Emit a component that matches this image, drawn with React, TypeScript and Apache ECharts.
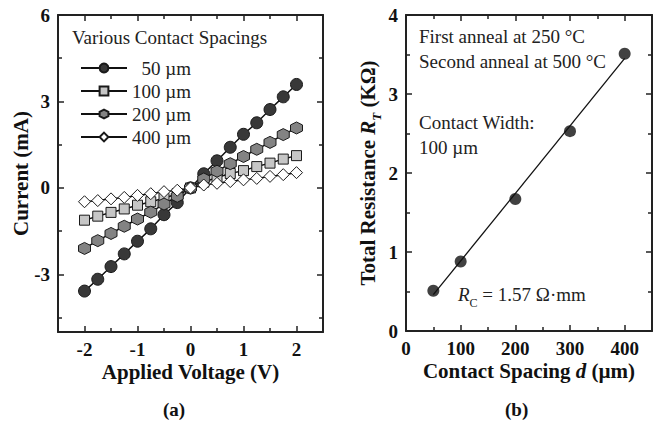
import React, { useEffect, useRef } from "react";
import * as echarts from "echarts";

// ---- Data (a) ----
const voltage = [-2, -1.75, -1.5, -1.25, -1, -0.75, -0.5, -0.25, 0, 0.25, 0.5, 0.75, 1, 1.25, 1.5, 1.75, 2];
const i50 = [-3.58, -3.17, -2.73, -2.29, -1.85, -1.42, -0.93, -0.51, 0, 0.49, 0.94, 1.41, 1.86, 2.26, 2.72, 3.16, 3.59];
const i100 = [-1.12, -0.98, -0.85, -0.73, -0.6, -0.48, -0.36, -0.2, 0, 0.2, 0.36, 0.5, 0.6, 0.74, 0.86, 1.0, 1.12];
const i200 = [-2.1, -1.83, -1.58, -1.33, -1.08, -0.84, -0.56, -0.29, 0, 0.31, 0.58, 0.84, 1.09, 1.34, 1.58, 1.85, 2.08];
const i400 = [-0.48, -0.44, -0.38, -0.33, -0.26, -0.2, -0.13, -0.08, 0, 0.1, 0.16, 0.22, 0.28, 0.33, 0.4, 0.46, 0.53];
const seriesNames = ["\u200250 \u00b5m", "100 \u00b5m", "200 \u00b5m", "400 \u00b5m"];

const aXMajor = [-2, -1, 0, 1, 2];
const aXMinor = [-1.5, -0.5, 0.5, 1.5];
const aYMajor = [-3, 0, 3, 6];
const aYMinor = [-4.5, -1.5, 1.5, 4.5];

// ---- Data (b) ----
const spacing = [50, 100, 200, 300, 400];
const totalR = [0.51, 0.88, 1.67, 2.53, 3.51];
const fitSpacing = [50, 400];
const fitR = [0.46, 3.45];

const bXMajor = [0, 100, 200, 300, 400];
const bXMinor = [50, 150, 250, 350];
const bYMajor = [0, 1, 2, 3, 4];
const bYMinor = [0.5, 1.5, 2.5, 3.5];

const FONT = '"Liberation Serif", "Times New Roman", serif';
const FRAME = "#222";
const HEX = "path://M0,-1 L0.866,-0.5 L0.866,0.5 L0,1 L-0.866,0.5 L-0.866,-0.5 Z";

function axisSet(
  dim: "x" | "y",
  gridIndex: number,
  min: number,
  max: number,
  majors: number[],
  minors: number[],
  labels: number[],
  name: string,
  nameGap: number,
  rich?: any
) {
  const mainPos = dim === "x" ? "bottom" : "left";
  const mirrorPos = dim === "x" ? "top" : "right";
  const line = { show: true, onZero: false, lineStyle: { color: FRAME, width: 2 } };
  const noLine = { show: false, onZero: false };
  const tickStyle = { color: FRAME, width: 1.5 };
  const base = { type: "value", gridIndex, min, max, splitLine: { show: false } };
  return [
    {
      ...base,
      position: mainPos,
      axisLine: line,
      axisTick: { show: true, inside: true, length: 6, customValues: majors, lineStyle: tickStyle },
      axisLabel: {
        show: true,
        customValues: labels,
        margin: 8,
        fontFamily: FONT,
        fontWeight: "bold",
        fontSize: 19,
        lineHeight: 19,
        color: "#111",
      },
      name,
      nameLocation: "middle",
      nameGap,
      nameMoveOverlap: false,
      nameRotate: dim === "y" ? 90 : 0,
      nameTextStyle: {
        fontFamily: FONT,
        fontWeight: "bold",
        fontSize: 21,
        lineHeight: 21,
        color: "#111",
        rich,
      },
    },
    {
      ...base,
      position: mainPos,
      axisLine: noLine,
      axisTick: { show: true, inside: true, length: 4, customValues: minors, lineStyle: tickStyle },
      axisLabel: { show: false },
    },
    {
      ...base,
      position: mirrorPos,
      axisLine: line,
      axisTick: { show: true, inside: true, length: 6, customValues: majors, lineStyle: tickStyle },
      axisLabel: { show: false },
    },
    {
      ...base,
      position: mirrorPos,
      axisLine: noLine,
      axisTick: { show: true, inside: true, length: 4, customValues: minors, lineStyle: tickStyle },
      axisLabel: { show: false },
    },
  ];
}

function pairs(xs: number[], ys: number[]) {
  return xs.map((x, i) => [x, ys[i]]);
}

export default function App() {
  const ref = useRef<HTMLDivElement>(null);
  useEffect(() => {
    if (!ref.current) return;
    const chart = echarts.init(ref.current, undefined, { renderer: "svg" });
    const lineStyle = { color: "#111", width: 1.5 };
    const ivSeries = [
      { name: seriesNames[0], data: i50, symbol: "circle", symbolSize: 12, color: "#383838" },
      { name: seriesNames[1], data: i100, symbol: "rect", symbolSize: 10, color: "#c6c6c6" },
      { name: seriesNames[2], data: i200, symbol: HEX, symbolSize: 12, color: "#838383" },
      { name: seriesNames[3], data: i400, symbol: "diamond", symbolSize: 12, color: "#ffffff" },
    ].map((s) => ({
      type: "line",
      name: s.name,
      xAxisIndex: 0,
      yAxisIndex: 0,
      data: pairs(voltage, s.data),
      symbol: s.symbol,
      symbolSize: s.symbolSize,
      showSymbol: true,
      lineStyle,
      itemStyle: { color: s.color, borderColor: "#1a1a1a", borderWidth: 1 },
      emphasis: { disabled: true },
    }));

    const option: any = {
      animation: false,
      backgroundColor: "#ffffff",
      grid: [
        { left: 58, top: 15, width: 265, height: 317 },
        { left: 406, top: 15, width: 246, height: 316 },
      ],
      xAxis: [
        ...axisSet("x", 0, -2.5, 2.5, aXMajor, aXMinor, aXMajor, "Applied Voltage (V)", 29),
        ...axisSet("x", 1, 0, 450, bXMajor, bXMinor, bXMajor, "Contact Spacing {i|d} (\u00b5m)", 29, {
          i: { fontFamily: FONT, fontWeight: "bold", fontStyle: "italic", fontSize: 21, lineHeight: 21, color: "#111" },
        }),
      ],
      yAxis: [
        ...axisSet("y", 0, -5, 6, aYMajor, aYMinor, aYMajor, "Current (mA)", 27),
        ...axisSet("y", 1, 0, 4, bYMajor, bYMinor, bYMajor, "Total Resistance {i|R}{sub|T} (K\u03a9)", 23, {
          i: { fontFamily: FONT, fontWeight: "bold", fontStyle: "italic", fontSize: 21, color: "#111", lineHeight: 30 },
          sub: {
            fontFamily: FONT,
            fontWeight: "bold",
            fontStyle: "italic",
            fontSize: 13,
            color: "#111",
            verticalAlign: "bottom",
            lineHeight: 30,
          },
        }),
      ],
      legend: {
        data: seriesNames,
        orient: "vertical",
        left: 80,
        top: 58,
        padding: 0,
        itemWidth: 46,
        itemHeight: 11,
        itemGap: 3,
        selectedMode: false,
        textStyle: { fontFamily: FONT, fontSize: 19, color: "#222", lineHeight: 20 },
      },
      series: [
        ...ivSeries,
        {
          type: "line",
          name: "fit",
          xAxisIndex: 4,
          yAxisIndex: 4,
          data: pairs(fitSpacing, fitR),
          showSymbol: false,
          symbol: "none",
          lineStyle: { color: "#111", width: 1.3 },
          emphasis: { disabled: true },
        },
        {
          type: "scatter",
          name: "RT",
          xAxisIndex: 4,
          yAxisIndex: 4,
          data: pairs(spacing, totalR),
          symbol: "circle",
          symbolSize: 12,
          itemStyle: { color: "#111" },
          emphasis: { disabled: true },
        },
      ],
      graphic: [
        {
          type: "text",
          left: 72,
          top: 28,
          style: { text: "Various Contact Spacings", font: `19px ${FONT}`, fill: "#222" },
        },
        {
          type: "text",
          left: 419,
          top: 27,
          style: { text: "First anneal at 250 \u00b0C", font: `19px ${FONT}`, fill: "#222" },
        },
        {
          type: "text",
          left: 419,
          top: 52,
          style: { text: "Second anneal at 500 \u00b0C", font: `19px ${FONT}`, fill: "#222" },
        },
        {
          type: "text",
          left: 419,
          top: 113,
          style: { text: "Contact Width:", font: `19px ${FONT}`, fill: "#222" },
        },
        {
          type: "text",
          left: 419,
          top: 138,
          style: { text: "100 \u00b5m", font: `19px ${FONT}`, fill: "#222" },
        },
        {
          type: "text",
          left: 458,
          top: 285,
          style: {
            text: "{i|R}{sub|C} = 1.57 \u03a9\u00b7mm",
            font: `19px ${FONT}`,
            fill: "#222",
            rich: {
              i: { fontFamily: FONT, fontStyle: "italic", fontSize: 19, fill: "#222", lineHeight: 28 },
              sub: { fontFamily: FONT, fontSize: 12, fill: "#222", verticalAlign: "bottom", lineHeight: 28 },
            },
          },
        },
        {
          type: "text",
          left: 163,
          top: 400,
          style: { text: "(a)", font: `bold 19px ${FONT}`, fill: "#111" },
        },
        {
          type: "text",
          left: 505,
          top: 400,
          style: { text: "(b)", font: `bold 19px ${FONT}`, fill: "#111" },
        },
      ],
    };
    chart.setOption(option);
    return () => chart.dispose();
  }, []);
  return (
    <div
      ref={ref}
      style={{ position: "fixed", left: 0, top: 0, width: 654, height: 424, background: "#fff" }}
    />
  );
}
